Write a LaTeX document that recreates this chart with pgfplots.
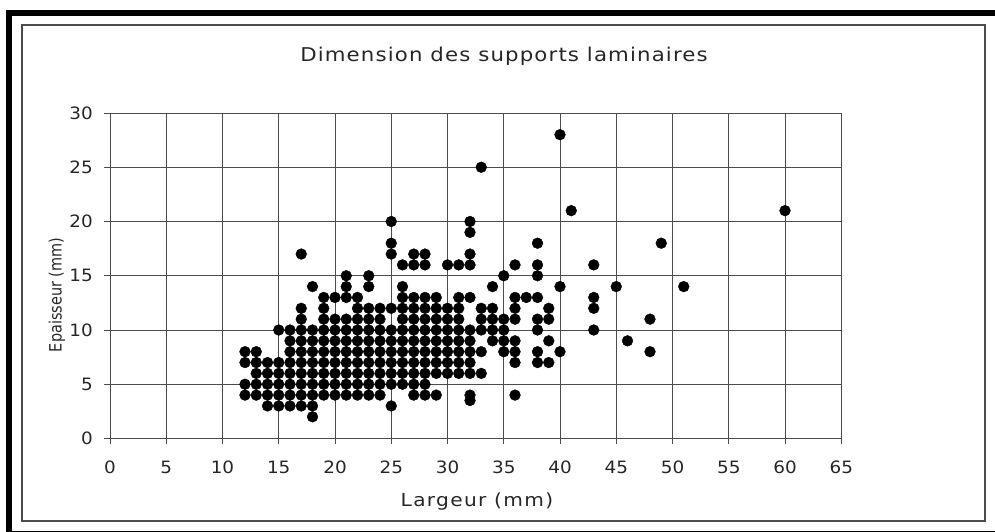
\documentclass[border=0pt]{standalone}
\usepackage{pgfplots}
\pgfplotsset{compat=1.18}
\usepackage{fontspec}
\setmainfont{DejaVu Sans}
\definecolor{gl}{gray}{0.3}
\begin{document}
\begin{tikzpicture}[x=1pt,y=1pt]
\path[use as bounding box] (0,0) rectangle (995,532);
\fill[black] (6,0) rectangle (12,522);
\fill[black] (6,516) rectangle (995,522);
\fill[black] (6,0) rectangle (995,1.2);
\draw[gl,line width=1.2pt] (22,11) rectangle (985,507);
\begin{axis}[
  at={(110pt,93.5pt)},anchor=south west,
  scale only axis,width=731.25pt,height=325.5pt,
  xmin=0,xmax=65,ymin=0,ymax=30,
  xtick={0,5,...,65},ytick={0,5,...,30},
  grid=major,
  major grid style={gl,line width=0.8pt},
  axis line style={gl,line width=0.9pt},
  tick style={gl,line width=0.8pt},
  tick align=outside,
  major tick length=6pt,
  axis lines=box,
  xtick pos=lower,ytick pos=left,
  tick label style={font=\fontsize{17}{17}\selectfont\addfontfeature{FakeStretch=1.08},text=black!85,inner sep=0pt},
  xticklabel style={yshift=-16pt},
  yticklabel style={xshift=-11pt},
  /pgf/number format/assume math mode=true,
  clip=false,
]
\addplot[only marks,mark=*,mark size=5.4pt,mark options={fill=black,draw=none}] coordinates {
(18,2)
(14,3)(15,3)(16,3)(17,3)(18,3)(25,3)
(32,3.5)(32,4)(36,4)
(12,4)(13,4)(14,4)(15,4)(16,4)(17,4)(18,4)(19,4)(20,4)(21,4)(22,4)(23,4)(24,4)(27,4)(28,4)(29,4)
(12,5)(13,5)(14,5)(15,5)(16,5)(17,5)(18,5)(19,5)(20,5)(21,5)(22,5)(23,5)(24,5)(25,5)(26,5)(27,5)(28,5)
(13,6)(14,6)(15,6)(16,6)(17,6)(18,6)(19,6)(20,6)(21,6)(22,6)(23,6)(24,6)(25,6)(26,6)(27,6)(28,6)(29,6)(30,6)(31,6)(32,6)(33,6)
(12,7)(13,7)(14,7)(15,7)(16,7)(17,7)(18,7)(19,7)(20,7)(21,7)(22,7)(23,7)(24,7)(25,7)(26,7)(27,7)(28,7)(29,7)(30,7)(31,7)(32,7)(36,7)(38,7)(39,7)
(12,8)(13,8)(16,8)(17,8)(18,8)(19,8)(20,8)(21,8)(22,8)(23,8)(24,8)(25,8)(26,8)(27,8)(28,8)(29,8)(30,8)(31,8)(32,8)(33,8)(35,8)(36,8)(38,8)(40,8)(48,8)
(16,9)(17,9)(18,9)(19,9)(20,9)(21,9)(22,9)(23,9)(24,9)(25,9)(26,9)(27,9)(28,9)(29,9)(30,9)(31,9)(32,9)(34,9)(35,9)(36,9)(39,9)(46,9)
(15,10)(16,10)(17,10)(18,10)(19,10)(20,10)(21,10)(22,10)(23,10)(24,10)(25,10)(26,10)(27,10)(28,10)(29,10)(30,10)(31,10)(32,10)(33,10)(34,10)(35,10)(38,10)(43,10)
(17,11)(19,11)(20,11)(21,11)(22,11)(23,11)(24,11)(26,11)(27,11)(28,11)(29,11)(30,11)(31,11)(33,11)(34,11)(35,11)(36,11)(38,11)(39,11)(48,11)
(17,12)(19,12)(22,12)(23,12)(24,12)(25,12)(26,12)(27,12)(28,12)(29,12)(30,12)(31,12)(33,12)(34,12)(36,12)(39,12)(43,12)
(19,13)(20,13)(21,13)(22,13)(26,13)(27,13)(28,13)(29,13)(31,13)(32,13)(36,13)(37,13)(38,13)(43,13)
(18,14)(21,14)(23,14)(26,14)(34,14)(40,14)(45,14)(51,14)
(21,15)(23,15)(35,15)(38,15)
(26,16)(27,16)(28,16)(30,16)(31,16)(32,16)(36,16)(38,16)(43,16)
(17,17)(25,17)(27,17)(28,17)(32,17)
(25,18)(38,18)(49,18)
(32,19)
(25,20)(32,20)
(41,21)(60,21)
(33,25)
(40,28)
};
\end{axis}
\node[text=black!85,font=\fontsize{19}{19}\selectfont\addfontfeature{FakeStretch=1.12,LetterSpace=6}] at (504,476) {Dimension des supports laminaires};
\node[text=black!85,font=\fontsize{18}{18}\selectfont\addfontfeature{FakeStretch=1.12,LetterSpace=7.4}] at (477,30) {Largeur (mm)};
\node[text=black!85,font=\fontsize{17}{17}\selectfont\addfontfeature{FakeStretch=0.85},rotate=90] at (57,237) {Epaisseur (mm)};
\end{tikzpicture}
\end{document}
